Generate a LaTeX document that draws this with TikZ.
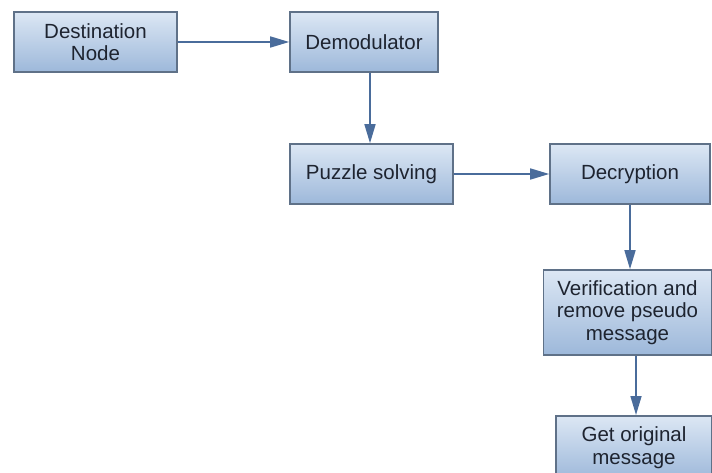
\documentclass[tikz,border=0pt]{standalone}
\usepackage{fontspec}
\setmainfont{Liberation Sans}
\usetikzlibrary{arrows.meta}
\definecolor{boxtop}{HTML}{DCE7F4}
\definecolor{boxbot}{HTML}{9DB8DA}
\definecolor{boxline}{HTML}{5F7188}
\definecolor{flow}{HTML}{4A6C9B}
\definecolor{labeltext}{HTML}{1E2430}
\tikzset{
  procbox/.style={draw=boxline, line width=1.6pt, top color=boxtop, bottom color=boxbot,
    align=center, inner sep=0pt, font=\fontsize{20.5}{22.5}\selectfont, text=labeltext},
  flowarrow/.style={draw=flow, line width=1.6pt, -{Triangle[length=19pt,width=11pt]}}
}
\begin{document}
\begin{tikzpicture}[x=1pt,y=-1pt]
  \useasboundingbox (0,0) rectangle (712,473);
  % process boxes, placed by their centres
  \node[procbox, minimum width=163pt, minimum height=60pt] (dest) at (95.5,42) {Destination\\Node};
  \node[procbox, minimum width=148pt, minimum height=60pt] (demod) at (364,42) {Demodulator};
  \node[procbox, minimum width=163pt, minimum height=60pt] (puzzle) at (371.5,174) {Puzzle solving};
  \node[procbox, minimum width=160pt, minimum height=60pt] (decrypt) at (630,174) {Decryption};
  \node[procbox, minimum width=168pt, minimum height=85pt] (verify) at (627.5,312.5) {Verification and\\remove pseudo\\message};
  \node[procbox, minimum width=156pt, minimum height=64pt, anchor=north] (orig) at (634,415) {Get original\\message};
  % flow connectors
  \draw[flowarrow] (dest.east) -- (demod.west);
  \draw[flowarrow] (demod.south -| 370,0) -- (puzzle.north -| 370,0);
  \draw[flowarrow] (puzzle.east) -- (decrypt.west);
  \draw[flowarrow] (decrypt.south) -- (verify.north -| decrypt.south);
  \draw[flowarrow] (verify.south -| 636,0) -- (orig.north -| 636,0);
\end{tikzpicture}
\end{document}
